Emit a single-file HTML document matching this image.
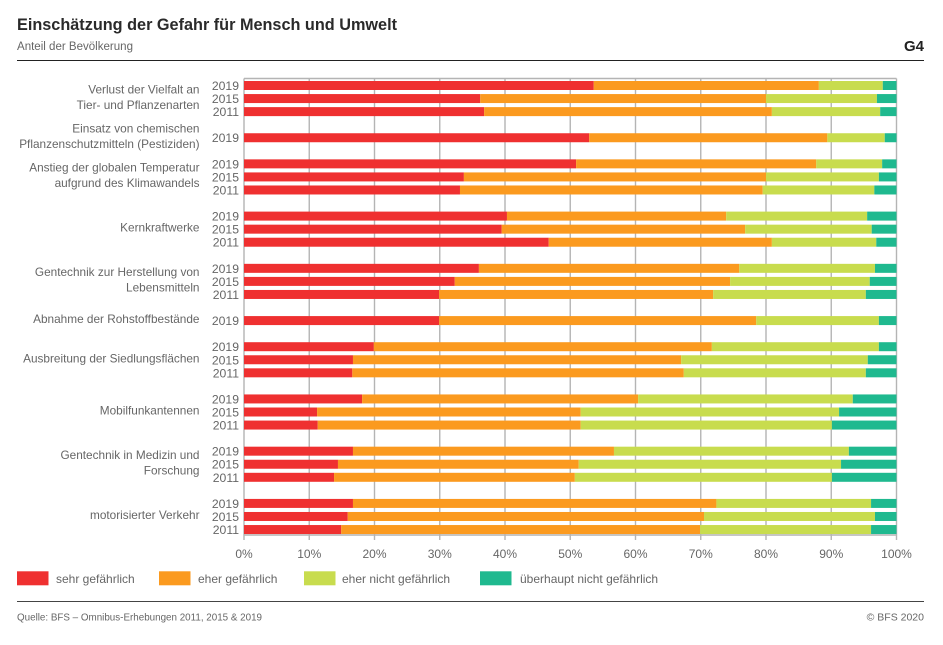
<!DOCTYPE html>
<html lang="de">
<head>
<meta charset="utf-8">
<title>Einschätzung der Gefahr für Mensch und Umwelt</title>
<style>
html,body{margin:0;padding:0;background:#fff;}
svg{display:block;font-family:"Liberation Sans",sans-serif;}
.muted{fill:#666;}
</style>
</head>
<body>
<svg id="chart" width="943" height="645" viewBox="0 0 943 645" xmlns="http://www.w3.org/2000/svg">
<rect width="943" height="645" fill="#fff"/>
<text x="17" y="30" font-size="17" font-weight="bold" fill="#2a2a2a" textLength="380" lengthAdjust="spacingAndGlyphs">Einschätzung der Gefahr für Mensch und Umwelt</text>
<text x="17" y="50" font-size="11.5" class="muted" textLength="116" lengthAdjust="spacingAndGlyphs">Anteil der Bevölkerung</text>
<text x="924" y="51" font-size="15" font-weight="bold" fill="#222" text-anchor="end">G4</text>
<line x1="17" x2="924" y1="60.5" y2="60.5" stroke="#222" stroke-width="1"/>
<g id="grid"></g>
<g id="bars"></g>
<g id="labels"></g>
<g id="legend"></g>
<line x1="17" x2="924" y1="601.5" y2="601.5" stroke="#444" stroke-width="1"/>
<text x="17" y="620.5" font-size="10.5" class="muted" textLength="245" lengthAdjust="spacingAndGlyphs">Quelle: BFS – Omnibus-Erhebungen 2011, 2015  &amp; 2019</text>
<text x="924" y="620.5" font-size="10.5" class="muted" text-anchor="end">© BFS 2020</text>
</svg>
<script>
var categories = [
  ["Verlust der Vielfalt an", "Tier- und Pflanzenarten"],
  ["Einsatz von chemischen", "Pflanzenschutzmitteln (Pestiziden)"],
  ["Anstieg der globalen Temperatur", "aufgrund des Klimawandels"],
  ["Kernkraftwerke"],
  ["Gentechnik zur Herstellung von", "Lebensmitteln"],
  ["Abnahme der Rohstoffbestände"],
  ["Ausbreitung der Siedlungsflächen"],
  ["Mobilfunkantennen"],
  ["Gentechnik in Medizin und", "Forschung"],
  ["motorisierter Verkehr"]
];
var years = [
  [2019, 2015, 2011],
  [2019],
  [2019, 2015, 2011],
  [2019, 2015, 2011],
  [2019, 2015, 2011],
  [2019],
  [2019, 2015, 2011],
  [2019, 2015, 2011],
  [2019, 2015, 2011],
  [2019, 2015, 2011]
];
var seriesNames = ["sehr gefährlich", "eher gefährlich", "eher nicht gefährlich", "überhaupt nicht gefährlich"];
var sehrGefaehrlich = [53.6,36.2,36.8, 52.9, 50.9,33.7,33.1, 40.3,39.5,46.7, 36,32.3,29.9, 29.9, 19.9,16.7,16.6, 18.1,11.2,11.3, 16.7,14.4,13.8, 16.7,15.9,14.9];
var eherGefaehrlich = [34.5,43.8,44.1, 36.5, 36.8,46.3,46.4, 33.6,37.3,34.2, 39.9,42.2,42, 48.6, 51.8,50.3,50.8, 42.3,40.4,40.3, 40,36.9,36.9, 55.7,54.6,55];
var eherNicht = [9.8,17,16.6, 8.8, 10.1,17.3,17.1, 21.6,19.4,16, 20.8,21.4,23.4, 18.8, 25.6,28.6,27.9, 32.9,39.6,38.5, 36,40.2,39.4, 23.7,26.2,26.2];
var ueberhauptNicht = [2.1,3,2.5, 1.8, 2.2,2.7,3.4, 4.5,3.8,3.1, 3.3,4.1,4.7, 2.7, 2.7,4.4,4.7, 6.7,8.8,9.9, 7.3,8.5,9.9, 3.9,3.3,3.9];
var xTicks = [0, 10, 20, 30, 40, 50, 60, 70, 80, 90, 100];

var NS = "http://www.w3.org/2000/svg";
var series = [sehrGefaehrlich, eherGefaehrlich, eherNicht, ueberhauptNicht];
var colors = ["#ef3030", "#fb9a1f", "#c8dc4e", "#1fb98f"];
var gridG = document.getElementById("grid");
var barsG = document.getElementById("bars");
var labelsG = document.getElementById("labels");
var legendG = document.getElementById("legend");

function x(v) { return 244 + v * 6.525; }
function y(row) { return 85.5 + row * 13.06; }
function make(tag, attrs, parent) {
  var el = document.createElementNS(NS, tag);
  for (var k in attrs) el.setAttribute(k, attrs[k]);
  parent.appendChild(el);
  return el;
}

var plotTop = 78.5, plotBottom = 535, tickBottom = 540;

xTicks.forEach(function (t) {
  var gl = make("line", {x1: x(t), x2: x(t), y1: plotTop, y2: tickBottom, stroke: "#b4b4b4", "stroke-width": 1.4}, gridG);
  
  
  var tl = make("text", {x: x(t), y: 558, "font-size": 12, "text-anchor": "middle", fill: "#666"}, labelsG);
  
  
  tl.textContent = t + "%";
});
[plotTop, plotBottom].forEach(function (py) {
  var hl = make("line", {x1: x(0), x2: x(100), y1: py, y2: py, stroke: "#b4b4b4", "stroke-width": 1.4}, gridG);
  
  
});

var rowIndex = 0, dataIndex = 0;
categories.forEach(function (lines, g) {
  var first = rowIndex;
  years[g].forEach(function (yr) {
    var cy = y(rowIndex), acc = 0;
    series.forEach(function (s, si) {
      var v = s[dataIndex];
      var r = make("rect", {x: x(acc), y: cy - 4.5, width: x(acc + v) - x(acc), height: 9, fill: colors[si]}, barsG);
      
      
      acc += v;
    });
    var yl = make("text", {x: 239, y: cy + 4.5, "font-size": 12.2, "text-anchor": "end", fill: "#666"}, labelsG);
    
    
    yl.textContent = yr;
    rowIndex++;
    dataIndex++;
  });
  var center = (y(first) + y(rowIndex - 1)) / 2 - 1;
  lines.forEach(function (ln, i) {
    var ly = center + 3.5 + (i - (lines.length - 1) / 2) * 15.5;
    var t = make("text", {x: 199.5, y: ly, "font-size": 11.8, "text-anchor": "end", fill: "#666"}, labelsG);
    
    
    t.textContent = ln;
  });
  rowIndex++;
});

var legendSwatchX = [17, 159, 304, 480];
var legendTextX = [56, 198, 342, 520];
seriesNames.forEach(function (name, i) {
  var sw = make("rect", {x: legendSwatchX[i], y: 571.3, width: 31.5, height: 14, fill: colors[i]}, legendG);
  
  
  var lt = make("text", {x: legendTextX[i], y: 583, "font-size": 12, fill: "#666"}, legendG);
  
  
  lt.textContent = name;
});
</script>
</body>
</html>
